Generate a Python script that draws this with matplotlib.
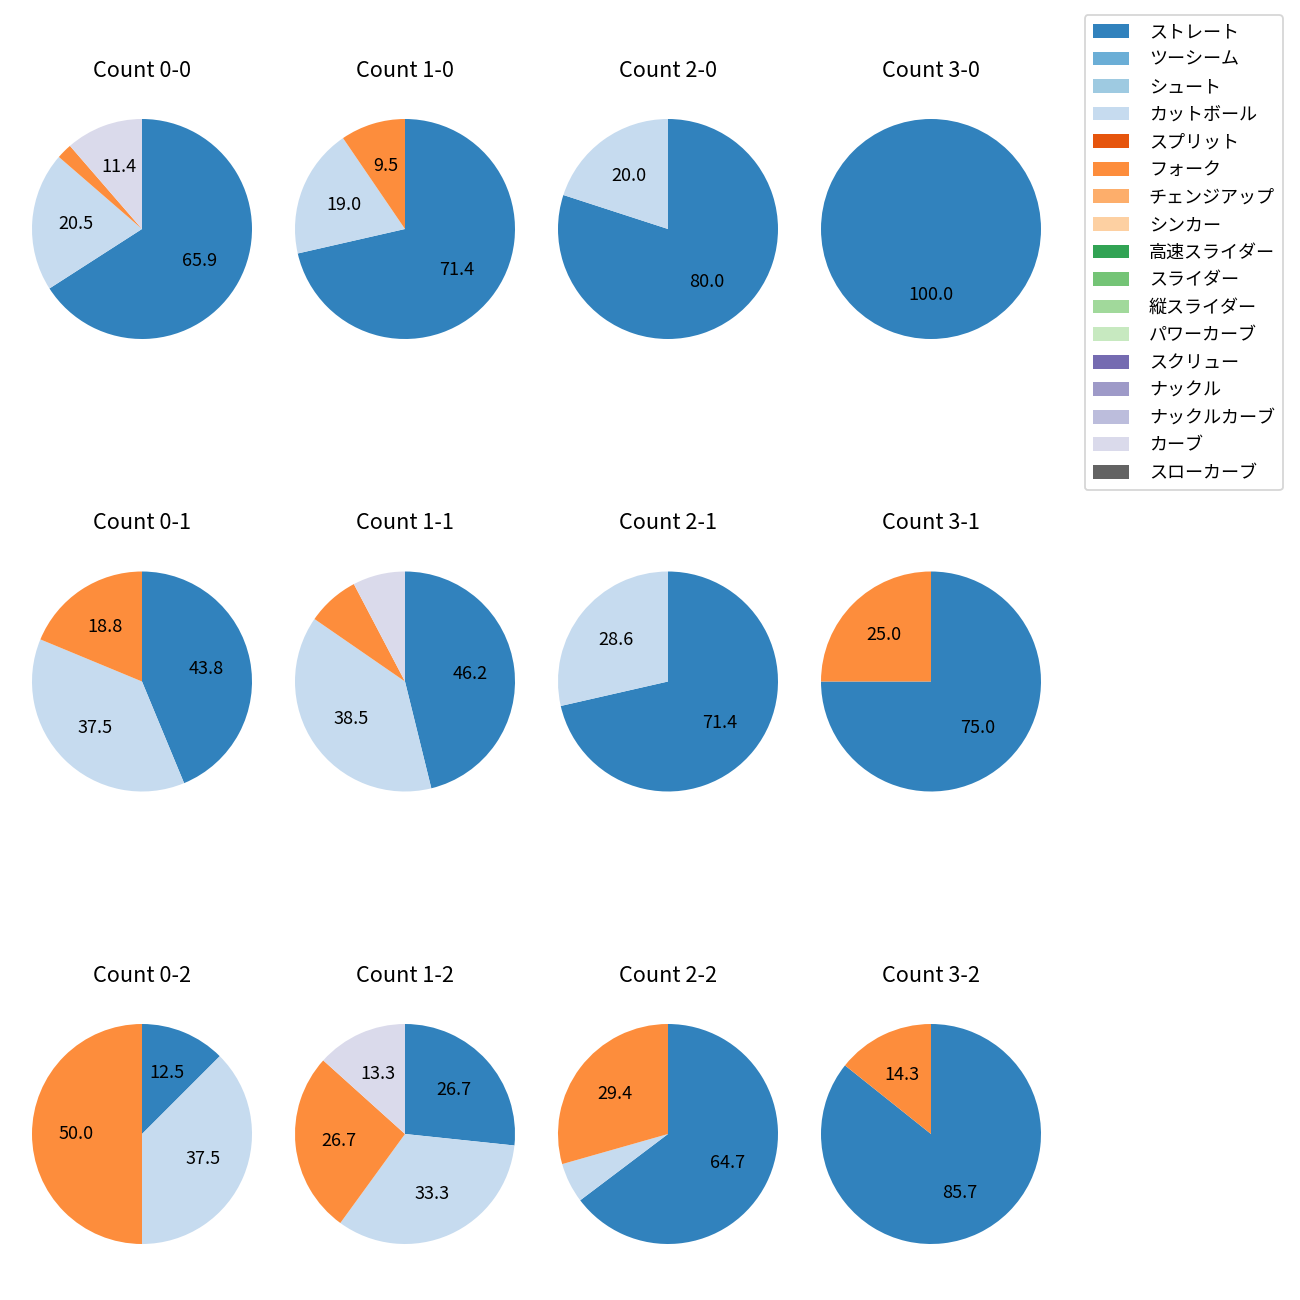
import matplotlib
matplotlib.use("Agg")
import matplotlib.pyplot as plt
from matplotlib.patches import Patch

plt.rcParams['font.family'] = ['Noto Sans CJK JP', 'DejaVu Sans']

pitch_types = ['ストレート', 'ツーシーム', 'シュート', 'カットボール', 'スプリット', 'フォーク',
               'チェンジアップ', 'シンカー', '高速スライダー', 'スライダー', '縦スライダー',
               'パワーカーブ', 'スクリュー', 'ナックル', 'ナックルカーブ', 'カーブ', 'スローカーブ']
colors = ['#3182bd', '#6baed6', '#9ecae1', '#c6dbef', '#e6550d', '#fd8d3c', '#fdae6b', '#fdd0a2',
          '#31a354', '#74c476', '#a1d99b', '#c7e9c0', '#756bb1', '#9e9ac8', '#bcbddc', '#dadaeb',
          '#636363']

balls = [0, 1, 2, 3]
strikes = [0, 1, 2]

# pitch counts per count situation, keyed by (balls, strikes)
straight = {(0, 0): 29, (1, 0): 15, (2, 0): 4, (3, 0): 1,
            (0, 1): 7, (1, 1): 6, (2, 1): 5, (3, 1): 3,
            (0, 2): 1, (1, 2): 4, (2, 2): 11, (3, 2): 6}
cutball = {(0, 0): 9, (1, 0): 4, (2, 0): 1, (3, 0): 0,
           (0, 1): 6, (1, 1): 5, (2, 1): 2, (3, 1): 0,
           (0, 2): 3, (1, 2): 5, (2, 2): 1, (3, 2): 0}
fork = {(0, 0): 1, (1, 0): 2, (2, 0): 0, (3, 0): 0,
        (0, 1): 3, (1, 1): 1, (2, 1): 0, (3, 1): 1,
        (0, 2): 4, (1, 2): 4, (2, 2): 5, (3, 2): 1}
curve = {(0, 0): 5, (1, 0): 0, (2, 0): 0, (3, 0): 0,
         (0, 1): 0, (1, 1): 1, (2, 1): 0, (3, 1): 0,
         (0, 2): 0, (1, 2): 2, (2, 2): 0, (3, 2): 0}


def counts_for(key):
    vals = [0] * len(pitch_types)
    vals[pitch_types.index('ストレート')] = straight[key]
    vals[pitch_types.index('カットボール')] = cutball[key]
    vals[pitch_types.index('フォーク')] = fork[key]
    vals[pitch_types.index('カーブ')] = curve[key]
    return vals


fig = plt.figure(figsize=(10, 10), dpi=130)
W = H = 1300.0
size = 275.0
col_c = [142, 405, 668, 931]
row_c = [229, 681.5, 1134]

for r, s in enumerate(strikes):
    for c, b in enumerate(balls):
        cx, cy = col_c[c], row_c[r]
        ax = fig.add_axes([(cx - size / 2) / W, 1 - (cy + size / 2) / H, size / W, size / H])
        vals = counts_for((b, s))
        idx = [i for i, v in enumerate(vals) if v > 0]
        ax.pie([vals[i] for i in idx], colors=[colors[i] for i in idx],
               startangle=90, counterclock=False,
               autopct=lambda p: f'{p:.1f}' if p >= 9 else '',
               textprops={'fontsize': 10})
        ax.set_title(f'Count {b}-{s}', fontsize=12, pad=8.2)

handles = [Patch(facecolor=col) for col in colors]
fig.legend(handles, pitch_types, loc='upper right',
           bbox_to_anchor=(1283 / W, 1 - 15 / H), borderaxespad=0, fontsize=10,
           labelspacing=0.53, handletextpad=1.1, borderpad=0.45,
           handleheight=0.8)

fig.savefig('out.png', dpi=130)
